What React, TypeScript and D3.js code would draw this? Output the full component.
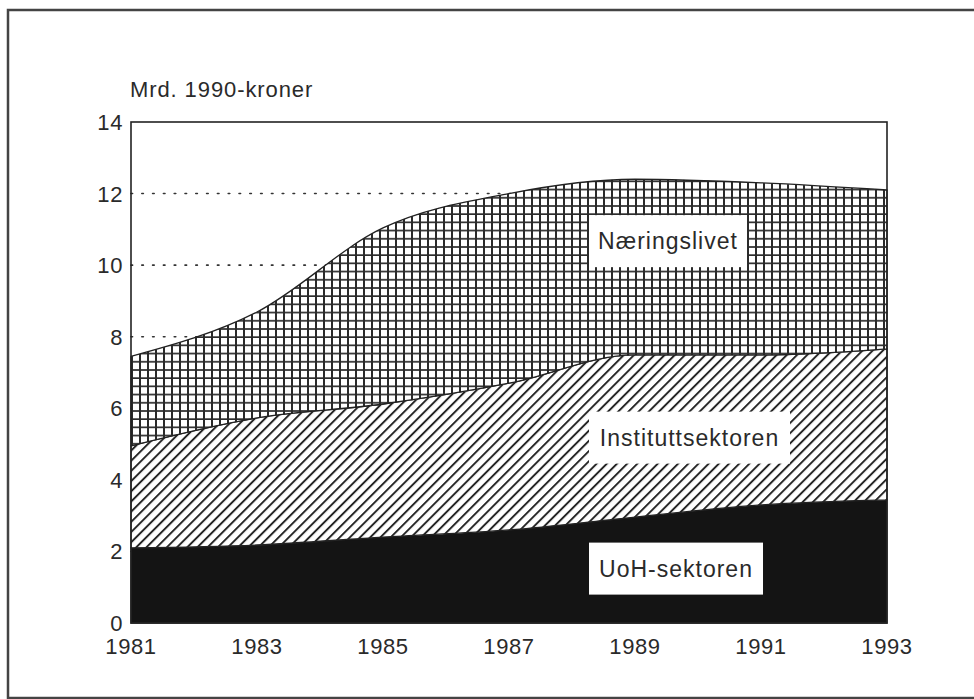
import React from "react";
import * as d3 from "d3";

const years = [1981, 1983, 1985, 1987, 1989, 1991, 1993];
const uohSektoren = [2.1, 2.18, 2.4, 2.6, 2.96, 3.3, 3.44];
const instituttSektoren = [2.85, 3.55, 3.72, 4.1, 4.53, 4.19, 4.22];
const naeringslivet = [2.5, 2.96, 4.92, 5.3, 4.91, 4.81, 4.44];
const yTicks = [0, 2, 4, 6, 8, 10, 12, 14];
const xTicks = [1981, 1983, 1985, 1987, 1989, 1991, 1993];
const seriesKeys = ["uoh", "inst", "naer"];
const seriesLabels = ["UoH-sektoren", "Instituttsektoren", "Næringslivet"];
// label box anchors in data coordinates (year of left edge, value of center)
const labelYear = [1988.27, 1988.27, 1988.27];
const labelValue = [1.52, 5.18, 10.67];
const labelWidth = [174, 201, 158];

const W = 974;
const H = 699;
const M = { left: 131, right: 887, top: 122, bottom: 623 };
const FONT = "'Liberation Sans', Arial, Helvetica, sans-serif";

export default function App() {
  const x = d3.scaleLinear().domain([1981, 1993]).range([M.left, M.right]);
  const y = d3.scaleLinear().domain([0, 14]).range([M.bottom, M.top]);

  const rows = years.map((yr, i) => ({
    year: yr,
    uoh: uohSektoren[i],
    inst: instituttSektoren[i],
    naer: naeringslivet[i],
  }));
  const stacked = d3.stack<any>().keys(seriesKeys)(rows);
  const area = d3
    .area<any>()
    .x((d) => x(d.data.year))
    .y0((d) => y(d[0]))
    .y1((d) => y(d[1]))
    .curve(d3.curveMonotoneX);
  const fills = ["#141414", "url(#hatch)", "url(#grid)"];

  return (
    <svg
      width={W}
      height={H}
      style={{ position: "absolute", left: 0, top: 0, background: "#fff" }}
      fontFamily={FONT}
    >
      <defs>
        <pattern id="grid" patternUnits="userSpaceOnUse" width={8} height={8.2} x={M.left} y={0}>
          <rect width={8} height={8.2} fill="#fff" />
          <line x1={1} y1={0} x2={1} y2={8.2} stroke="#2a2a2a" strokeWidth={2} />
          <line x1={0} y1={1} x2={8} y2={1} stroke="#2a2a2a" strokeWidth={1.7} />
        </pattern>
        <pattern id="hatch" patternUnits="userSpaceOnUse" width={7.2} height={7.2} patternTransform="rotate(45)">
          <rect width={7.2} height={7.2} fill="#fff" />
          <line x1={1} y1={-1} x2={1} y2={9} stroke="#1e1e1e" strokeWidth={1.9} />
        </pattern>
      </defs>

      {/* outer frame */}
      <rect x={8} y={10} width={W + 20} height={688} fill="none" stroke="#444" strokeWidth={2.5} />

      {/* dotted gridlines */}
      {yTicks
        .filter((t) => t > 0 && t < 14)
        .map((t) => (
          <line
            key={"g" + t}
            x1={M.left}
            x2={M.right}
            y1={y(t)}
            y2={y(t)}
            stroke="#333"
            strokeWidth={1.6}
            strokeDasharray="1.6 9.2"
            strokeLinecap="round"
          />
        ))}

      {/* areas */}
      {stacked.map((s, i) => (
        <path key={s.key} d={area(s) || ""} fill={fills[i]} stroke="#222" strokeWidth={1.3} />
      ))}

      {/* plot frame */}
      <rect
        x={M.left}
        y={M.top}
        width={M.right - M.left}
        height={M.bottom - M.top}
        fill="none"
        stroke="#222"
        strokeWidth={1.6}
      />

      {/* y ticks labels */}
      {yTicks.map((t) => (
        <text
          key={"y" + t}
          x={123}
          y={y(t) + 8}
          textAnchor="end"
          fontSize={22}
          letterSpacing={0.6}
          fill="#2a2a2a"
        >
          {t}
        </text>
      ))}

      {/* x tick labels */}
      {xTicks.map((t) => (
        <text
          key={"x" + t}
          x={x(t)}
          y={654}
          textAnchor="middle"
          fontSize={22}
          letterSpacing={0.6}
          fill="#2a2a2a"
        >
          {t}
        </text>
      ))}

      <text x={130} y={97} fontSize={22} letterSpacing={0.9} fill="#2a2a2a">
        Mrd. 1990-kroner
      </text>

      {/* series labels */}
      {seriesLabels.map((lab, i) => {
        const bx = x(labelYear[i]);
        const cy = y(labelValue[i]);
        return (
          <g key={lab}>
            <rect x={bx} y={cy - 26} width={labelWidth[i]} height={52} fill="#fff" />
            <text
              x={bx + labelWidth[i] / 2}
              y={cy + 8}
              textAnchor="middle"
              fontSize={23}
              letterSpacing={1}
              fill="#2a2a2a"
            >
              {lab}
            </text>
          </g>
        );
      })}
    </svg>
  );
}
